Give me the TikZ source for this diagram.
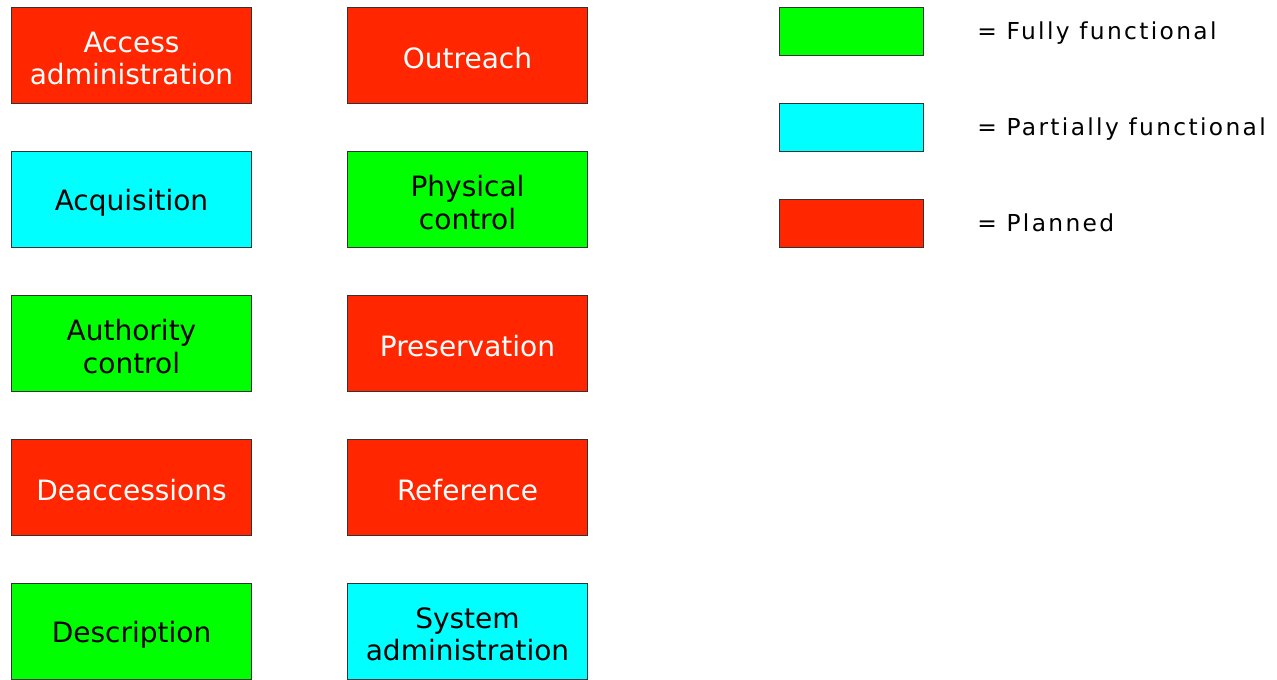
\documentclass[tikz,border=0pt]{standalone}
\usepackage{fontspec}
\setmainfont{DejaVu Sans}
\newfontfamily\legendfont[LetterSpace=10]{DejaVu Sans}
\definecolor{fullgreen}{HTML}{00FF00}
\definecolor{partcyan}{HTML}{00FFFF}
\definecolor{planred}{HTML}{FF2600}
\definecolor{edgegray}{HTML}{333333}
\begin{document}
\begin{tikzpicture}[x=0.75pt,y=-0.75pt,
  funcbox/.style={draw=edgegray,line width=0.75pt,minimum width=240*0.75pt,minimum height=96*0.75pt,
    inner sep=0pt,anchor=north west},
  boxlabel/.style={align=center,inner sep=0pt,yshift=-2.2pt,font=\fontsize{21}{24.5}\selectfont},
  full/.style={funcbox,fill=fullgreen,label={[boxlabel,text=black]center:#1}},
  partial/.style={funcbox,fill=partcyan,label={[boxlabel,text=black]center:#1}},
  planned/.style={funcbox,fill=planred,label={[boxlabel,text=white]center:#1}},
  keybox/.style={draw=edgegray,line width=0.75pt,minimum width=144*0.75pt,minimum height=48*0.75pt,
    inner sep=0pt,anchor=north west},
  keytext/.style={anchor=base west,inner sep=0pt,font=\legendfont\fontsize{17.5}{21}\selectfont}]
\useasboundingbox (0,0) rectangle (1277,679);
% left column
\node[planned={Access\\administration}] (access) at (11,7) {};
\node[partial={Acquisition}] (acq) at (11,151) {};
\node[full={Authority\\control}] (auth) at (11,295) {};
\node[planned={Deaccessions}] (deacc) at (11,439) {};
\node[full={Description}] (desc) at (11,583) {};
% right column
\node[planned={Outreach}] (outreach) at (347,7) {};
\node[full={Physical\\control}] (phys) at (347,151) {};
\node[planned={Preservation}] (pres) at (347,295) {};
\node[planned={Reference}] (ref) at (347,439) {};
\node[partial={System\\administration}] (sysadm) at (347,583) {};
% key
\node[keybox,fill=fullgreen] (kfull) at (779,7) {};
\node[keybox,fill=partcyan] (kpart) at (779,103) {};
\node[keybox,fill=planred] (kplan) at (779,199) {};
\node[keytext] (tfull) at (977,39) {= Fully functional};
\node[keytext] (tpart) at (977,135) {= Partially functional};
\node[keytext] (tplan) at (977,231) {= Planned};
\end{tikzpicture}
\end{document}
